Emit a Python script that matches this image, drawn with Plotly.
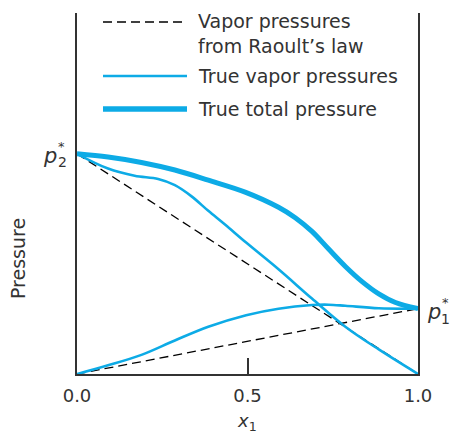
import plotly.graph_objects as go

# ---------------- data ----------------
p2_star = 0.610
p1_star = 0.181

raoult_x = [0.0, 1.0]
raoult_p2 = [p2_star, 0.0]
raoult_p1 = [0.0, p1_star]

p2_x = [0.0, 0.091, 0.169, 0.238, 0.287, 0.336, 0.385, 0.434, 0.496, 0.591, 0.689, 0.787, 0.885, 1.0]
p2_y = [0.610, 0.569, 0.549, 0.540, 0.523, 0.492, 0.452, 0.414, 0.364, 0.290, 0.209, 0.131, 0.068, 0.0]

p1_x = [0.0, 0.091, 0.189, 0.287, 0.385, 0.496, 0.591, 0.689, 0.738, 0.787, 0.885, 1.0]
p1_y = [0.0, 0.024, 0.053, 0.093, 0.131, 0.163, 0.181, 0.191, 0.192, 0.189, 0.182, 0.181]

tot_x = [0.0, 0.091, 0.189, 0.287, 0.385, 0.493, 0.591, 0.640, 0.689, 0.738, 0.787, 0.836, 0.885, 0.934, 1.0]
tot_y = [0.610, 0.601, 0.586, 0.565, 0.537, 0.504, 0.462, 0.433, 0.395, 0.346, 0.298, 0.256, 0.222, 0.198, 0.181]

x_tick_vals = [0.0, 0.5, 1.0]
x_tick_text = ["0.0", "0.5", "1.0"]

legend_labels = ["Vapor pressures<br>from Raoult’s law", "True vapor pressures", "True total pressure"]

# ---------------- styling ----------------
BLUE = "#0DABE6"
INK = "#333333"
FONT = "DejaVu Sans"

W, H = 451, 435
L, R, T, B = 77, 418, 13, 374


def px(xp):
    return (xp - L) / (R - L)


def py(yp):
    return (B - yp) / (B - T)


fig = go.Figure()

dash = dict(color="black", width=1.3, dash="9px,5px")
fig.add_trace(go.Scatter(x=raoult_x, y=raoult_p2, mode="lines", line=dash, showlegend=False, hoverinfo="skip"))
fig.add_trace(go.Scatter(x=raoult_x, y=raoult_p1, mode="lines", line=dash, showlegend=False, hoverinfo="skip"))
fig.add_trace(go.Scatter(x=p2_x, y=p2_y, mode="lines",
                         line=dict(color=BLUE, width=2.6, shape="spline", smoothing=1.0), showlegend=False))
fig.add_trace(go.Scatter(x=p1_x, y=p1_y, mode="lines",
                         line=dict(color=BLUE, width=2.6, shape="spline", smoothing=1.0), showlegend=False))
fig.add_trace(go.Scatter(x=tot_x, y=tot_y, mode="lines",
                         line=dict(color=BLUE, width=5, shape="spline", smoothing=1.0), showlegend=False))

# legend drawn manually
shapes = [
    dict(type="line", xref="paper", yref="paper", x0=px(103), x1=px(187), y0=py(22), y1=py(22),
         line=dash),
    dict(type="line", xref="paper", yref="paper", x0=px(103), x1=px(187), y0=py(76), y1=py(76),
         line=dict(color=BLUE, width=2.6)),
    dict(type="line", xref="paper", yref="paper", x0=px(103), x1=px(187), y0=py(109), y1=py(109),
         line=dict(color=BLUE, width=5.5)),
]

annotations = []
leg_y = [33, 76, 109]
for lab, yy in zip(legend_labels, leg_y):
    annotations.append(dict(xref="paper", yref="paper", x=px(196), y=py(yy), text=lab,
                            showarrow=False, xanchor="left", yanchor="middle", align="left",
                            font=dict(family=FONT, size=19, color=INK)))

annotations += [
    dict(xref="paper", yref="paper", x=px(247), y=py(422), text="<i>x</i><sub>1</sub>",
         showarrow=False, xanchor="center", yanchor="middle", font=dict(family=FONT, size=18, color=INK)),
    dict(xref="paper", yref="paper", x=px(18), y=py(258), text="Pressure", textangle=-90,
         showarrow=False, xanchor="center", yanchor="middle", font=dict(family=FONT, size=19, color=INK)),
    # p2*
    dict(xref="paper", yref="paper", x=px(50), y=py(156), text="<i>p</i>",
         showarrow=False, xanchor="center", yanchor="middle", font=dict(family=FONT, size=21, color=INK)),
    dict(xref="paper", yref="paper", x=px(61), y=py(146), text="*",
         showarrow=False, xanchor="center", yanchor="middle", font=dict(family=FONT, size=13, color=INK)),
    dict(xref="paper", yref="paper", x=px(62), y=py(162), text="2",
         showarrow=False, xanchor="center", yanchor="middle", font=dict(family=FONT, size=14, color=INK)),
    # p1*
    dict(xref="paper", yref="paper", x=px(434), y=py(312), text="<i>p</i>",
         showarrow=False, xanchor="center", yanchor="middle", font=dict(family=FONT, size=21, color=INK)),
    dict(xref="paper", yref="paper", x=px(445), y=py(302), text="*",
         showarrow=False, xanchor="center", yanchor="middle", font=dict(family=FONT, size=13, color=INK)),
    dict(xref="paper", yref="paper", x=px(445), y=py(319), text="1",
         showarrow=False, xanchor="center", yanchor="middle", font=dict(family=FONT, size=14, color=INK)),
]

fig.update_layout(
    width=W, height=H,
    margin=dict(l=L, r=W - R, t=T, b=H - B, pad=0),
    plot_bgcolor="white", paper_bgcolor="white",
    shapes=shapes, annotations=annotations,
    showlegend=False,
    font=dict(family=FONT, size=18, color=INK),
)
fig.update_xaxes(range=[0, 1], showgrid=False, zeroline=False, showline=True, linecolor=INK, linewidth=2,
                 tickvals=x_tick_vals, ticktext=x_tick_text, ticks="inside", ticklen=16, tickwidth=2,
                 tickcolor=INK, tickfont=dict(family=FONT, size=18, color=INK), ticklabelstandoff=4)
fig.update_yaxes(range=[0, 1], showgrid=False, zeroline=False, showline=True, mirror=True,
                 linecolor=INK, linewidth=2, showticklabels=False, ticks="")

fig.write_html("out.html", config={"displayModeBar": False},
               post_script="document.body.style.margin='0';")
